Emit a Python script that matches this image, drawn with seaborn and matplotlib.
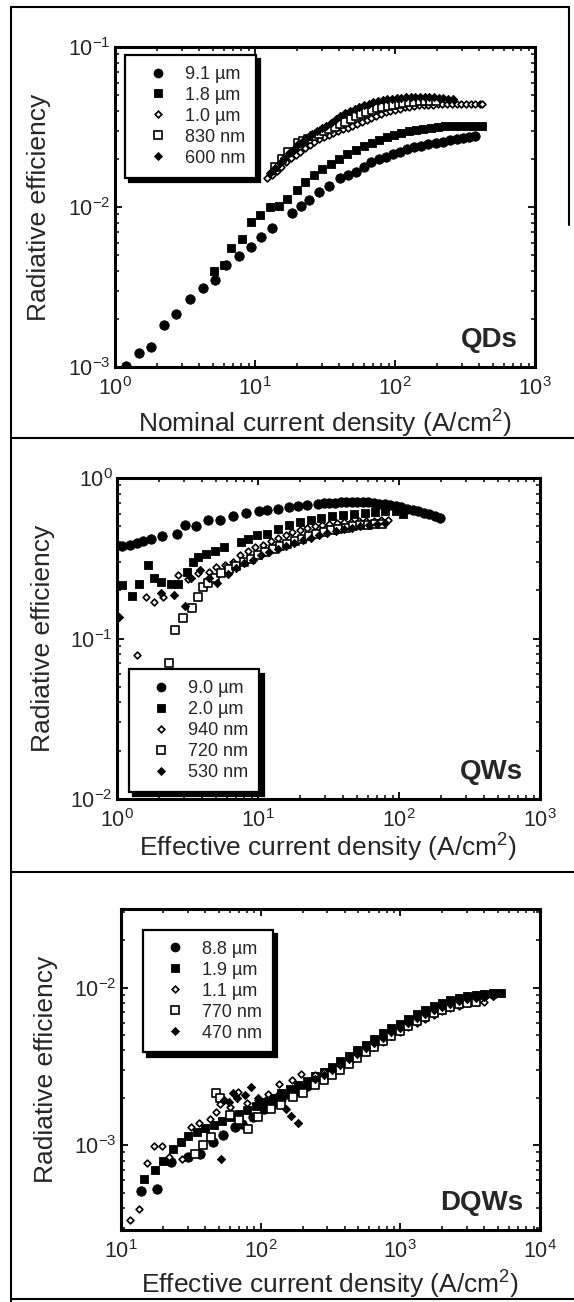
import numpy as np
import pandas as pd
import matplotlib
matplotlib.use("Agg")
import matplotlib.pyplot as plt
from matplotlib.lines import Line2D
from matplotlib.ticker import LogLocator, NullFormatter, LogFormatterSciNotation
import seaborn as sns

# ---------------- QDs (nominal current density) ----------------
qd_labels = ["9.1 µm", "1.8 µm", "1.0 µm", "830 nm", "600 nm"]

qd_x_91 = [1.2, 1.49, 1.81, 2.23, 2.73, 3.42, 4.27, 5.18, 6.18, 7.65, 9.35, 11.1, 13.2,
           18.3, 21.3, 24.3, 28.5, 33.6, 40.3, 46.4, 53.0, 60.0, 67.7, 76.5,
           86, 97, 109, 122, 137, 154, 173, 195, 219, 246, 276, 305, 338, 373]
qd_y_91 = [1.02e-3, 1.22e-3, 1.34e-3, 1.83e-3, 2.16e-3, 2.65e-3, 3.10e-3, 3.52e-3, 4.34e-3,
           4.95e-3, 5.66e-3, 6.52e-3, 7.35e-3,
           9.18e-3, 1.02e-2, 1.10e-2, 1.24e-2, 1.36e-2, 1.51e-2, 1.58e-2, 1.66e-2, 1.77e-2,
           1.90e-2, 2.00e-2,
           2.06e-2, 2.13e-2, 2.22e-2, 2.30e-2, 2.36e-2, 2.42e-2, 2.47e-2, 2.52e-2, 2.56e-2,
           2.62e-2, 2.67e-2, 2.71e-2, 2.74e-2, 2.77e-2]

qd_x_18 = [5.08, 6.0, 6.77, 8.03, 9.35, 10.9, 12.7, 14.8, 17.0, 19.8, 22.9, 26.4, 30.3, 34.7,
           39.6, 45.6, 52.5, 60, 68, 77, 87, 98, 111, 125, 141, 159, 180, 203, 229, 259, 292,
           330, 373, 421]
qd_y_18 = [4.00e-3, 4.32e-3, 5.58e-3, 6.31e-3, 8.07e-3, 8.88e-3,
           1.00e-2, 1.02e-2, 1.13e-2, 1.27e-2, 1.43e-2, 1.58e-2, 1.73e-2, 1.85e-2, 1.99e-2,
           2.14e-2, 2.28e-2, 2.40e-2, 2.52e-2, 2.63e-2, 2.73e-2, 2.82e-2, 2.91e-2, 2.98e-2,
           3.04e-2, 3.09e-2, 3.13e-2, 3.16e-2, 3.19e-2, 3.21e-2, 3.22e-2, 3.23e-2, 3.23e-2, 3.23e-2]

qd_x_10 = [12.2, 13.2, 14.3, 15.4, 16.7, 18.0, 19.5, 21.1, 22.8, 24.6, 26.6, 28.8, 31.1, 33.6,
           36.3, 39.3, 42.5, 45.9, 49.6, 53.6, 58.0, 62.7, 67.8, 73.3, 79.2, 85.6, 92.5, 100,
           108, 117, 126, 137, 148, 160, 173, 187, 202, 218, 236, 255, 276, 298, 322, 348, 376,
           406, 421]
qd_y_10 = [1.52e-2, 1.58e-2, 1.68e-2, 1.78e-2, 1.90e-2, 2.02e-2, 2.12e-2, 2.22e-2, 2.33e-2,
           2.45e-2, 2.55e-2, 2.65e-2, 2.74e-2, 2.83e-2, 2.92e-2, 3.00e-2, 3.06e-2, 3.12e-2,
           3.20e-2, 3.30e-2, 3.40e-2, 3.50e-2, 3.60e-2, 3.72e-2, 3.84e-2, 3.92e-2, 3.99e-2,
           4.05e-2, 4.12e-2, 4.20e-2, 4.24e-2, 4.28e-2, 4.31e-2, 4.33e-2, 4.35e-2, 4.37e-2,
           4.38e-2, 4.40e-2, 4.41e-2, 4.42e-2, 4.42e-2, 4.42e-2, 4.42e-2, 4.42e-2, 4.42e-2,
           4.42e-2, 4.42e-2]

qd_x_830 = [13.9, 15.7, 17.3, 20.3, 22.0, 24.0, 26.2, 28.6, 31.2, 34.0, 37.1, 40.5, 44.2, 48.2,
            52.6, 57.4, 62.6, 68.3, 74.5, 81.3, 88.7, 96.8, 106, 115, 126, 137, 150, 163, 178, 195]
qd_y_830 = [1.77e-2, 2.01e-2, 2.20e-2, 2.50e-2, 2.58e-2, 2.68e-2, 2.78e-2, 2.88e-2, 2.97e-2,
            3.07e-2, 3.18e-2, 3.30e-2, 3.42e-2, 3.55e-2, 3.68e-2, 3.80e-2, 3.92e-2, 4.03e-2,
            4.13e-2, 4.22e-2, 4.30e-2, 4.37e-2, 4.43e-2, 4.48e-2, 4.52e-2, 4.55e-2, 4.57e-2,
            4.58e-2, 4.58e-2, 4.57e-2]

qd_x_600 = [12.8, 13.9, 15.0, 16.2, 17.5, 18.9, 20.4, 22.0, 23.8, 25.7, 27.8, 30.0, 32.4, 35.0,
            37.8, 40.8, 44.1, 47.6, 51.4, 55.5, 60.0, 64.8, 70.0, 75.6, 81.6, 88.1, 95.2, 103,
            111, 120, 130, 140, 151, 163, 176, 190, 205, 222, 240, 258]
qd_y_600 = [1.62e-2, 1.75e-2, 1.88e-2, 2.02e-2, 2.18e-2, 2.32e-2, 2.46e-2, 2.60e-2, 2.75e-2,
            2.88e-2, 3.00e-2, 3.10e-2, 3.20e-2, 3.35e-2, 3.55e-2, 3.72e-2, 3.85e-2, 3.97e-2,
            4.10e-2, 4.22e-2, 4.33e-2, 4.43e-2, 4.52e-2, 4.60e-2, 4.66e-2, 4.72e-2, 4.76e-2,
            4.80e-2, 4.83e-2, 4.85e-2, 4.87e-2, 4.88e-2, 4.88e-2, 4.87e-2, 4.86e-2, 4.84e-2,
            4.82e-2, 4.78e-2, 4.74e-2, 4.70e-2]

# ---------------- QWs (effective current density) ----------------
qw_labels = ["9.0 µm", "2.0 µm", "940 nm", "720 nm", "530 nm"]

qw_x_90 = [1.09, 1.24, 1.38, 1.53, 1.75, 2.10, 2.67, 3.05, 3.66, 4.44, 5.42, 6.69, 8.26, 10.2,
           11.5, 13.8, 16.5, 19.2, 22.4, 26.8, 29.5, 32.1, 35.2, 38.5, 42.1, 46.1, 50.4, 55.2,
           60.4, 66.2, 72.5, 79.4, 86.9, 95, 104, 114, 125, 137, 150, 164, 179, 196]
qw_y_90 = [0.376, 0.381, 0.394, 0.404, 0.416, 0.434, 0.451, 0.513, 0.501, 0.551, 0.551, 0.578,
           0.606, 0.621, 0.629, 0.644, 0.660, 0.667, 0.676, 0.692, 0.696, 0.700, 0.703, 0.706,
           0.708, 0.709, 0.709, 0.709, 0.705, 0.700, 0.693, 0.686, 0.677, 0.667, 0.656, 0.644,
           0.633, 0.621, 0.608, 0.594, 0.580, 0.564]

qw_x_20 = [1.09, 1.27, 1.44, 1.65, 1.83, 2.06, 2.40, 2.71, 3.15, 3.44, 3.77, 4.26, 4.95, 5.75,
           7.55, 8.51, 9.9, 11.5, 13.8, 16.5, 19.8, 23.7, 28.0, 33.5, 40.0, 48.0, 57.0, 68.0,
           80.0, 95.0, 107]
qw_y_20 = [0.215, 0.184, 0.218, 0.286, 0.237, 0.226, 0.218, 0.218, 0.260, 0.300, 0.323, 0.335,
           0.352, 0.372, 0.400, 0.420, 0.440, 0.451, 0.484, 0.508, 0.532, 0.551, 0.565, 0.578,
           0.590, 0.600, 0.610, 0.615, 0.620, 0.620, 0.600]

qw_x_940 = [1.39, 1.61, 1.84, 2.11, 2.70, 3.20, 3.75, 4.53, 5.05, 5.8, 6.6, 7.5, 8.5, 9.6, 10.9,
            12.3, 13.9, 15.7, 17.5, 19.8, 22.3, 25.2, 28.4, 32.0, 36.1, 40.7, 45.9, 51.8, 58.7,
            66.2, 74.6, 84.2]
qw_y_940 = [0.079, 0.181, 0.170, 0.181, 0.249, 0.235, 0.255, 0.261, 0.278, 0.287, 0.300, 0.330,
            0.350, 0.372, 0.385, 0.405, 0.425, 0.440, 0.462, 0.475, 0.490, 0.500, 0.510, 0.520,
            0.525, 0.530, 0.535, 0.538, 0.541, 0.544, 0.546, 0.548]

qw_x_720 = [2.33, 2.56, 2.93, 3.41, 3.74, 4.06, 4.41, 4.92, 5.5, 6.2, 7.0, 7.9, 8.9, 10.0, 11.3,
            12.7, 14.3, 16.1, 18.2, 20.5, 23.1, 26.0, 29.3, 33.0, 37.2, 41.9, 47.2, 53.2, 60.0,
            67.6, 76.2]
qw_y_720 = [0.070, 0.113, 0.134, 0.154, 0.182, 0.210, 0.223, 0.240, 0.255, 0.270, 0.285, 0.300,
            0.315, 0.330, 0.345, 0.360, 0.375, 0.390, 0.405, 0.420, 0.435, 0.448, 0.460, 0.472,
            0.483, 0.492, 0.500, 0.507, 0.512, 0.516, 0.520]

qw_x_530 = [1.03, 2.06, 2.52, 3.02, 3.34, 3.9, 4.5, 5.1, 6.1, 7.0, 8.0, 9.2, 10.5, 12.0, 13.8,
            15.8, 18.1, 20.7, 23.7, 27.1, 31.0, 35.5, 40.7, 46.6, 53.3, 61.0, 69.8, 80.0]
qw_y_530 = [0.137, 0.193, 0.186, 0.159, 0.237, 0.269, 0.240, 0.222, 0.252, 0.275, 0.295, 0.310,
            0.330, 0.345, 0.360, 0.378, 0.395, 0.410, 0.425, 0.440, 0.455, 0.468, 0.480, 0.490,
            0.500, 0.510, 0.518, 0.525]

# ---------------- DQWs (effective current density) ----------------
dqw_labels = ["8.8 µm", "1.9 µm", "1.1 µm", "770 nm", "470 nm"]

dqw_x_88 = [13.9, 18.1, 22.9, 30.1, 36.5, 45.5, 53.7, 65.0, 73.8, 88.5, 106, 122, 140, 161, 185,
            213, 245, 282, 324, 372, 428, 492, 566, 651, 748, 860, 989, 1137, 1308, 1504, 1729,
            1988, 2286, 2629, 3023, 3476, 3997, 4597]
dqw_y_88 = [5.1e-4, 5.3e-4, 7.8e-4, 8.4e-4, 8.85e-4, 1.05e-3, 1.16e-3, 1.31e-3, 1.37e-3, 1.51e-3,
            1.70e-3, 1.82e-3, 1.96e-3, 2.09e-3, 2.22e-3, 2.37e-3, 2.54e-3, 2.73e-3, 2.95e-3,
            3.20e-3, 3.48e-3, 3.78e-3, 4.12e-3, 4.48e-3, 4.86e-3, 5.25e-3, 5.64e-3, 6.05e-3,
            6.46e-3, 6.90e-3, 7.35e-3, 7.78e-3, 8.14e-3, 8.45e-3, 8.70e-3, 8.90e-3, 9.04e-3, 9.14e-3]

dqw_x_19 = [14.7, 17.4, 19.9, 23.5, 27.0, 30.1, 35, 40, 46, 53, 61, 70, 80, 92, 106, 122, 140,
            161, 185, 213, 245, 282, 324, 372, 428, 492, 566, 651, 748, 860, 989, 1137, 1308,
            1504, 1729, 1988, 2286, 2629, 3023, 3476, 3997, 4597, 5286]
dqw_y_19 = [6.14e-4, 7.0e-4, 8.0e-4, 9.4e-4, 1.05e-3, 1.14e-3, 1.22e-3, 1.28e-3, 1.34e-3, 1.42e-3,
            1.50e-3, 1.58e-3, 1.67e-3, 1.77e-3, 1.88e-3, 2.00e-3, 2.13e-3, 2.27e-3, 2.41e-3,
            2.57e-3, 2.74e-3, 2.93e-3, 3.15e-3, 3.40e-3, 3.69e-3, 4.00e-3, 4.35e-3, 4.72e-3,
            5.12e-3, 5.52e-3, 5.92e-3, 6.34e-3, 6.76e-3, 7.18e-3, 7.60e-3, 7.98e-3, 8.33e-3,
            8.62e-3, 8.86e-3, 9.04e-3, 9.17e-3, 9.25e-3, 9.30e-3]

dqw_x_11 = [11.6, 13.5, 15.3, 17.3, 19.5, 22.0, 27.2, 31.6, 36.0, 43.6, 48.2, 51.4, 60, 68.7,
            80, 95, 112, 135, 167, 195, 245, 282, 324, 372, 428, 492, 566, 651, 748, 860, 989,
            1137, 1308, 1504, 1729, 1988, 2286, 2629, 3023, 3476, 3997]
dqw_y_11 = [3.37e-4, 3.96e-4, 7.73e-4, 9.86e-4, 9.86e-4, 8.43e-4, 8.22e-4, 1.31e-3, 1.38e-3,
            1.46e-3, 1.63e-3, 1.84e-3, 1.75e-3, 2.18e-3, 1.85e-3, 1.95e-3, 2.10e-3, 2.44e-3,
            2.61e-3, 2.83e-3, 2.80e-3, 2.90e-3, 3.02e-3, 3.18e-3, 3.38e-3, 3.62e-3, 3.90e-3,
            4.20e-3, 4.55e-3, 4.90e-3, 5.25e-3, 5.60e-3, 5.98e-3, 6.35e-3, 6.72e-3, 7.08e-3,
            7.40e-3, 7.70e-3, 7.93e-3, 8.08e-3, 8.15e-3]

dqw_x_770 = [33.6, 38.5, 44.0, 48.0, 50.8, 60, 70, 81.3, 95, 119, 140, 171, 200, 245, 282, 324,
             372, 428, 492, 566, 651, 748, 860, 989, 1137, 1308, 1504, 1729, 1988, 2286, 2629,
             3023, 3476]
dqw_y_770 = [8.85e-4, 1.0e-3, 1.12e-3, 2.13e-3, 1.98e-3, 1.55e-3, 1.45e-3, 1.26e-3, 1.50e-3,
             1.69e-3, 1.80e-3, 2.01e-3, 2.15e-3, 2.42e-3, 2.60e-3, 2.80e-3, 3.02e-3, 3.28e-3,
             3.56e-3, 3.88e-3, 4.22e-3, 4.58e-3, 4.95e-3, 5.33e-3, 5.72e-3, 6.12e-3, 6.52e-3,
             6.90e-3, 7.25e-3, 7.56e-3, 7.82e-3, 8.02e-3, 8.15e-3]

dqw_x_470 = [51.7, 55, 58.9, 63.4, 68, 76.7, 85.7, 95, 110, 130, 151, 166, 185, 245, 282, 324,
             372, 428, 492, 566, 651, 748, 860, 989, 1137, 1308, 1504, 1729, 1988, 2286, 2629,
             3023, 3476, 3997, 4597]
dqw_y_470 = [8.2e-4, 1.95e-3, 1.89e-3, 2.13e-3, 2.0e-3, 2.08e-3, 2.35e-3, 1.98e-3, 1.95e-3,
             2.05e-3, 1.69e-3, 1.53e-3, 1.39e-3, 2.62e-3, 2.78e-3, 2.99e-3, 3.22e-3, 3.50e-3,
             3.80e-3, 4.12e-3, 4.46e-3, 4.82e-3, 5.20e-3, 5.58e-3, 5.98e-3, 6.38e-3, 6.80e-3,
             7.20e-3, 7.58e-3, 7.92e-3, 8.20e-3, 8.45e-3, 8.62e-3, 8.75e-3, 8.82e-3]

# marker styles shared by all three panels (same order as the legends)
# (marker, face colour, scatter size, edge width, legend markersize)
styles = [("o", "black", 46, 0.6, 6.4),
          ("s", "black", 38, 0.6, 6.0),
          ("D", "white", 12, 1.2, 3.4),
          ("s", "white", 28, 1.2, 5.2),
          ("D", "black", 18, 0.6, 4.2)]
draw_order = [0, 1, 4, 3, 2]

sns.set_style("ticks")
plt.rcParams["font.family"] = ["Liberation Sans", "DejaVu Sans"]
plt.rcParams["mathtext.fontset"] = "custom"
plt.rcParams["mathtext.rm"] = "Liberation Sans"
plt.rcParams["mathtext.it"] = "Liberation Sans:italic"
plt.rcParams["mathtext.bf"] = "Liberation Sans:bold"
plt.rcParams["axes.unicode_minus"] = False

fig = plt.figure(figsize=(5.74, 13.02), dpi=100)


def draw_panel(rect, series, labels, xlim, ylim, xlabel, tag, ylab_x, xlab_y, leg_loc, leg_anchor):
    ax = fig.add_axes(rect)
    ax.set_xscale("log")
    ax.set_yscale("log")
    for i in draw_order:
        xs, ys = series[i]
        mk, fc, s, lw, _ = styles[i]
        df = pd.DataFrame({"x": xs, "y": ys})
        sns.scatterplot(data=df, x="x", y="y", ax=ax, marker=mk, s=s, color=fc,
                        edgecolor="black", linewidth=lw, legend=False, zorder=3 + i)
    ax.set_xlim(*xlim)
    ax.set_ylim(*ylim)

    for sp in ax.spines.values():
        sp.set_visible(True)
        sp.set_linewidth(2.2)
        sp.set_color("black")
    for axis in (ax.xaxis, ax.yaxis):
        axis.set_major_locator(LogLocator(base=10, numticks=12))
        axis.set_minor_locator(LogLocator(base=10, subs=np.arange(2, 10), numticks=12))
        axis.set_major_formatter(LogFormatterSciNotation())
        axis.set_minor_formatter(NullFormatter())
    ax.tick_params(which="both", direction="in", top=True, right=True, color="black")
    ax.tick_params(which="major", length=5, width=1.3, labelsize=15.5)
    ax.tick_params(which="minor", length=3, width=1.1)
    ax.tick_params(axis="x", which="major", pad=7)
    ax.tick_params(axis="y", which="major", pad=3)

    ax.set_ylabel("Radiative efficiency", fontsize=19)
    ax.yaxis.set_label_coords(ylab_x, 0.5)
    ax.yaxis.label.set_va("center")
    ax.set_xlabel(xlabel, fontsize=19)
    ax.xaxis.set_label_coords(0.5, xlab_y)
    ax.xaxis.label.set_va("center")

    ax.text(0.96, 0.085, tag, transform=ax.transAxes, ha="right", va="center",
            fontsize=20, fontweight="bold", zorder=10)

    handles = [Line2D([], [], ls="", marker=st[0], markersize=st[4], markerfacecolor=st[1],
                      markeredgecolor="black", markeredgewidth=st[3]) for st in styles]
    leg = ax.legend(handles, labels, loc=leg_loc, bbox_to_anchor=leg_anchor,
                    frameon=True, fancybox=False, framealpha=1, edgecolor="black",
                    shadow={"color": "black", "alpha": 1, "ox": 3, "oy": -3},
                    fontsize=13, borderpad=0.6, handlelength=2.4, handletextpad=0.3,
                    labelspacing=0.22, borderaxespad=0)
    leg.get_frame().set_linewidth(1.6)
    leg.set_zorder(20)
    return ax


draw_panel([0.2003, 0.7181, 0.7317, 0.2458],
           [(qd_x_91, qd_y_91), (qd_x_18, qd_y_18), (qd_x_10, qd_y_10),
            (qd_x_830, qd_y_830), (qd_x_600, qd_y_600)],
           qd_labels, (1, 1000), (1e-3, 1e-1),
           "Nominal current density (A/cm$^{2}$)", "QDs",
           -0.180, -0.178, "upper left", (0.024, 0.975))

draw_panel([0.2038, 0.3863, 0.7369, 0.2465],
           [(qw_x_90, qw_y_90), (qw_x_20, qw_y_20), (qw_x_940, qw_y_940),
            (qw_x_720, qw_y_720), (qw_x_530, qw_y_530)],
           qw_labels, (1, 1000), (1e-2, 1),
           "Effective current density (A/cm$^{2}$)", "QWs",
           -0.176, -0.152, "lower left", (0.028, 0.022))

draw_panel([0.2108, 0.0553, 0.7300, 0.2465],
           [(dqw_x_88, dqw_y_88), (dqw_x_19, dqw_y_19), (dqw_x_11, dqw_y_11),
            (dqw_x_770, dqw_y_770), (dqw_x_470, dqw_y_470)],
           dqw_labels, (10, 1e4), (2.9e-4, 3.15e-2),
           "Effective current density (A/cm$^{2}$)", "DQWs",
           -0.180, -0.170, "upper left", (0.052, 0.935))

# outer frame and panel separators of the scanned figure
frame = [((0.019, 0.019), (0.9946, 0.0)),
         ((0.019, 0.9913), (0.9946, 0.9946)),
         ((0.9913, 0.9913), (0.9946, 0.827)),
         ((0.019, 1.0), (0.6636, 0.6636)),
         ((0.019, 1.0), (0.3303, 0.3303)),
         ((0.019, 1.0), (0.0023, 0.0023))]
for xs, ys in frame:
    fig.add_artist(Line2D(xs, ys, transform=fig.transFigure, color="black", lw=1.5))

fig.savefig("out.png", dpi=100)
